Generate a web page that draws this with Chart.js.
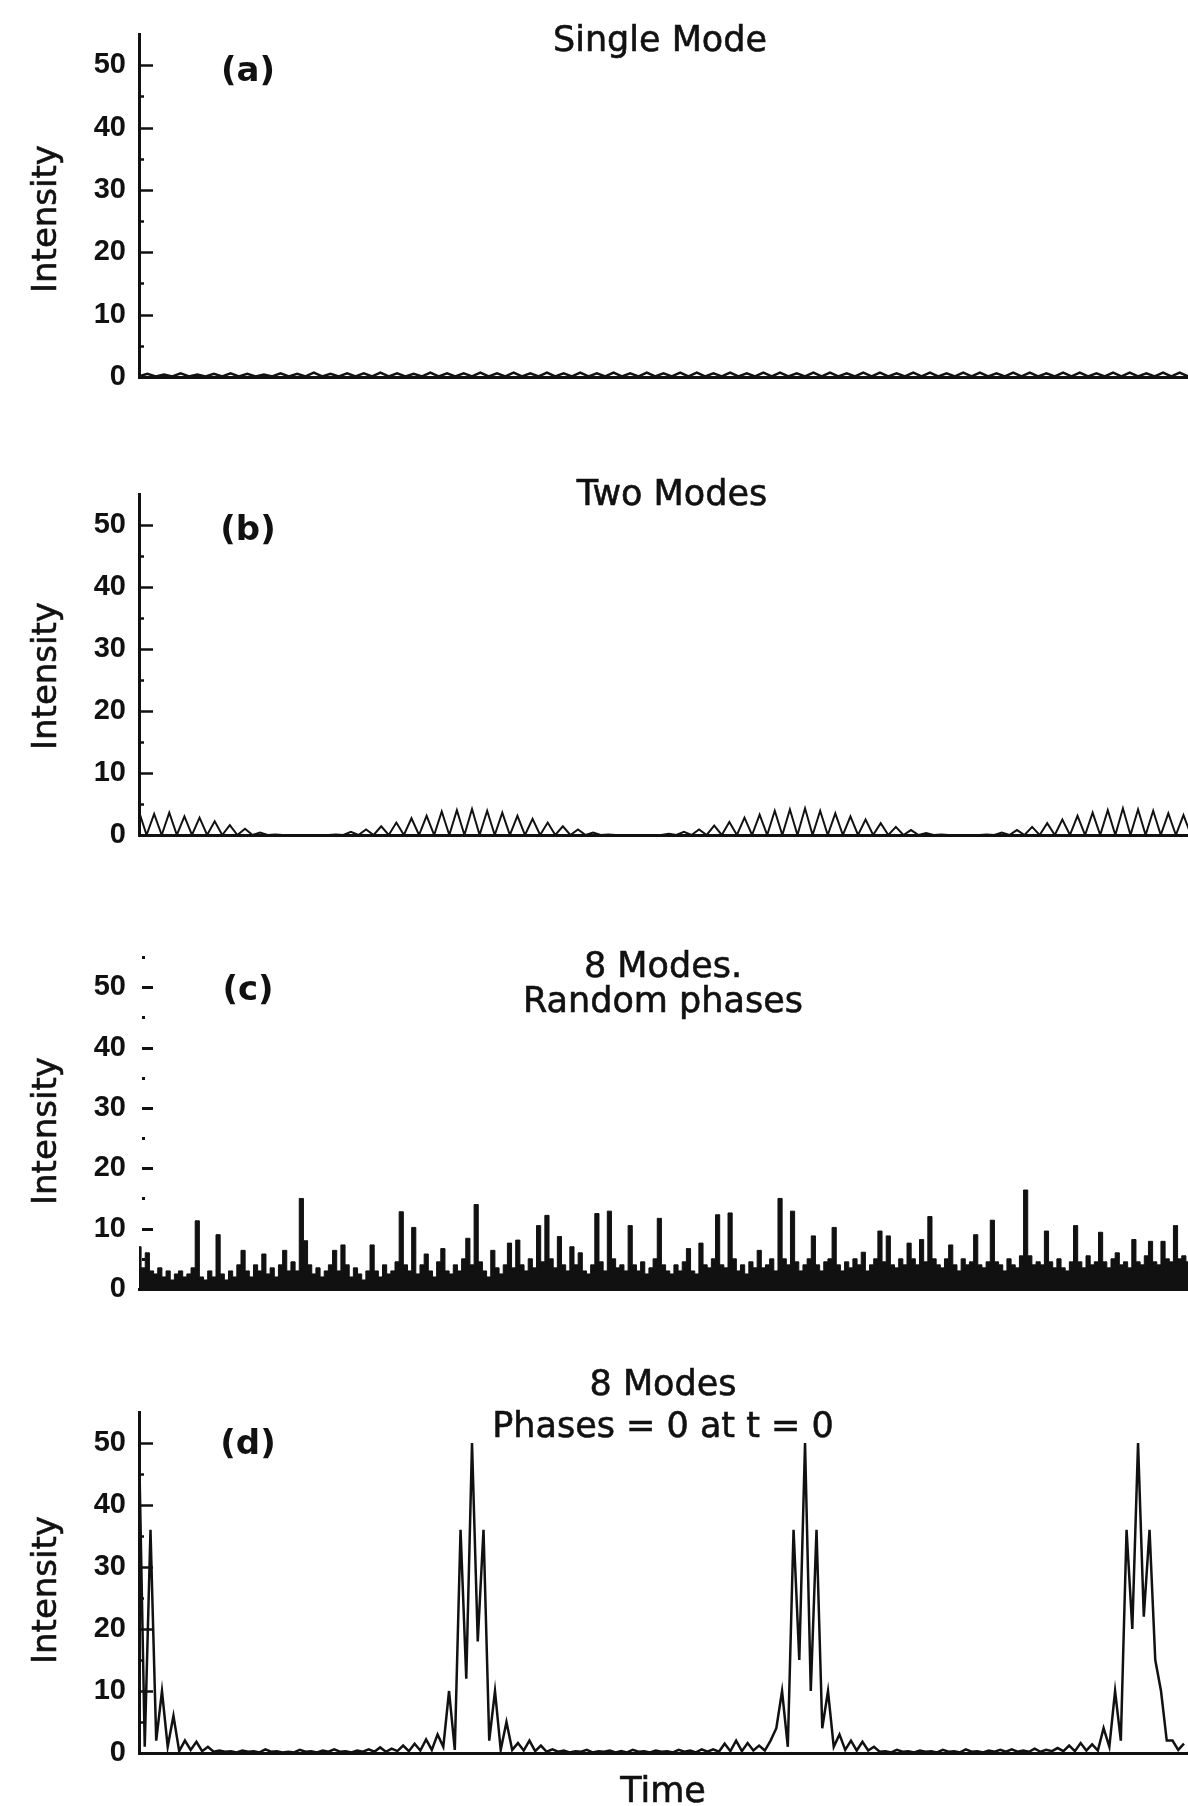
<!DOCTYPE html>
<html><head><meta charset="utf-8">
<script src="https://cdn.jsdelivr.net/npm/chart.js@4/dist/chart.umd.min.js"></script>
<style>
html,body{margin:0;padding:0;background:#fff;}
body{width:1188px;height:1806px;position:relative;overflow:hidden;font-family:'DejaVu Sans',sans-serif;color:#111;}
.panel{position:absolute;left:0;width:1188px;}
.t{position:absolute;transform:translate(-50%,-50%);white-space:nowrap;line-height:1;font-size:35px;-webkit-text-stroke:0.6px #111;}
.lab{font-weight:bold;font-size:34px;-webkit-text-stroke:0;}
.yl{transform:translate(-50%,-50%) rotate(-90deg);font-size:34px;}
</style></head><body>

<div class="panel" id="pa"><canvas id="ca"></canvas></div>
<div class="panel" id="pb"><canvas id="cb"></canvas></div>
<div class="panel" id="pc"><canvas id="cc"></canvas></div>
<div class="panel" id="pd"><canvas id="cd"></canvas></div>

<div class="t" style="left:660px;top:39px">Single Mode</div>
<div class="t lab" style="left:248px;top:69px">(a)</div>
<div class="t yl" style="left:44px;top:219px">Intensity</div>

<div class="t" style="left:672px;top:493px">Two Modes</div>
<div class="t lab" style="left:248px;top:528px">(b)</div>
<div class="t yl" style="left:44px;top:676px">Intensity</div>

<div class="t" style="left:663px;top:965px">8 Modes.</div>
<div class="t" style="left:663px;top:1000px">Random phases</div>
<div class="t lab" style="left:248px;top:988px">(c)</div>
<div class="t yl" style="left:44px;top:1131px">Intensity</div>

<div class="t" style="left:663px;top:1383px">8 Modes</div>
<div class="t" style="left:663px;top:1425px">Phases = 0 at t = 0</div>
<div class="t lab" style="left:248px;top:1442px">(d)</div>
<div class="t yl" style="left:44px;top:1590px">Intensity</div>
<div class="t" style="left:663px;top:1790px">Time</div>

<script>
// ---- axis / tick data ----
const yTickStep = 5;
const yMin = 0;
const yMax = 55;
const xMax = 3.15;           // time, in units of the mode-beat period

// ---- (a) Single mode: sampled every 0.025 period ----
const dtA = 0.025;
const singleMode = [
0.1,0.5,0.1,0.4,0.1,0.6,0.1,0.4,0.1,0.5,
0.1,0.6,0.1,0.5,0.1,0.4,0.1,0.6,0.1,0.5,
0.1,0.7,0.1,0.5,0.1,0.6,0.1,0.6,0.1,0.7,
0.1,0.6,0.1,0.5,0.1,0.7,0.1,0.6,0.1,0.6,
0.1,0.7,0.1,0.6,0.1,0.7,0.1,0.6,0.1,0.7,
0.1,0.6,0.1,0.7,0.1,0.6,0.1,0.7,0.1,0.6,
0.1,0.7,0.1,0.6,0.1,0.7,0.1,0.7,0.1,0.6,
0.1,0.7,0.1,0.6,0.1,0.7,0.1,0.7,0.1,0.6,
0.1,0.7,0.1,0.7,0.1,0.6,0.1,0.7,0.1,0.7,
0.1,0.6,0.1,0.7,0.1,0.7,0.1,0.6,0.1,0.7,
0.1,0.7,0.1,0.6,0.1,0.7,0.1,0.7,0.1,0.6,
0.1,0.7,0.1,0.7,0.1,0.6,0.1,0.7,0.1,0.7,
0.1,0.6,0.1,0.7,0.1,0.7,0.1];

// ---- (b) Two modes: sampled every 1/44 period ----
const dtB = 1/44;
const twoModes = [
3.8,0, 3.4,0, 3.6,0, 3.0,0, 2.8,0, 2.2,0, 1.6,0, 1.0,0, 0.4,0, 0.1,0,
0,0, 0,0, 0,0, 0.1,0, 0.5,0, 0.9,0, 1.4,0, 2.0,0, 2.7,0, 3.1,0,
3.8,0, 4.0,0, 4.2,0, 3.9,0, 3.6,0, 3.1,0, 2.6,0, 2.0,0, 1.4,0, 0.9,0,
0.4,0, 0.1,0, 0,0, 0,0, 0,0, 0.2,0, 0.5,0, 0.9,0, 1.5,0, 2.1,0,
2.8,0, 3.3,0, 3.9,0, 4.1,0, 4.3,0, 3.9,0, 3.5,0, 3.0,0, 2.5,0, 1.9,0,
1.3,0, 0.8,0, 0.3,0, 0.1,0, 0,0, 0,0, 0.1,0, 0.4,0, 0.8,0, 1.3,0,
1.9,0, 2.5,0, 3.1,0, 3.6,0, 4.0,0, 4.3,0, 4.1,0, 3.9,0, 3.5,0, 3.2,0,
2.7];

// ---- (c) 8 modes, random phases: sampled every 0.0125 period ----
const dtC = 0.0125;
const randomPhases = [
7,3.5,6,3,2.5,3.5,2,3,1.5,2.5,
3,2,2.5,3.5,11.3,2,1.5,3,2,9,
2.5,1.5,3,2,4,6.4,3,2,4,3,
5.8,2.5,3.5,2,4,6.4,3,4.5,3,15,
8,4,2.5,3.5,2,3,4,6.4,3,7.3,
4,2,3.5,2.5,1.5,3,7.3,3,2,4,
2.5,3,4.5,12.8,4,3,10.2,2.5,4,5.8,
3,2,4.5,6.7,3,2.5,4,3,5,8.4,
4,14,4.5,3,2,6.4,3.5,2.5,4,7.6,
3.5,8.1,4,3,5,3.5,10.5,4.5,12.2,5,
3.5,8.7,4,3,7,4,6,3,2.5,4,
12.5,4.5,3,12.9,5,3.5,4,3,10.5,4,
3,4.5,2.5,3.5,5,11.7,4,3,2.5,4,
3,4.5,6.7,3,2.5,7.6,4,3.5,5,12.3,
4,3.5,12.6,5,3,4,2.5,4.5,3.5,6.4,
3.5,4,5,3,15,5,4,12.9,4.5,3,
4,5,8.8,4,3,4.5,5,10.2,4,3,
4.5,3.5,5,4,6.1,3,4,5,9.6,4.5,
8.8,4,3.5,5,4,7.6,5,4,8.2,4.5,
12,5,4,3.5,5,7.3,4,3,5,4,
4.5,9,4,3.5,4.5,11.4,4.5,4,3,5,
4,3.5,5.5,16.4,5.5,4,4.5,4,9.6,4.5,
3.5,5,3.5,3,4.5,10.5,4.5,3.5,5.5,4,
4.5,9.4,4.5,3.5,5,6,4,4.5,3.5,8.2,
4.5,4,5.5,7.9,4.5,4,7.9,5,4.5,10.5,
5,5.5,4.5];

// ---- (d) 8 modes, phases = 0 at t = 0: sampled every 1/58 period ----
const dtD = 1/58;
const lockedPhases = [
50,1,36,2,10,1,6,0.3,2,0.5,
1.8,0.3,1,0.2,0.4,0.2,0.3,0.1,0.4,0.2,
0.3,0.1,0.6,0.2,0.3,0.1,0.2,0.1,0.5,0.2,
0.3,0.1,0.4,0.2,0.6,0.2,0.3,0.1,0.4,0.2,
0.6,0.2,0.9,0.2,0.7,0.3,1.2,0.3,1.5,0.4,
2.2,0.5,3,1,10,0.5,36,12,50,18,
36,2,10,0.5,5,0.5,1.6,0.4,2,0.3,
1.2,0.2,0.6,0.2,0.4,0.1,0.3,0.2,0.5,0.1,
0.3,0.2,0.4,0.1,0.3,0.1,0.5,0.2,0.3,0.1,
0.4,0.2,0.3,0.1,0.5,0.2,0.4,0.1,0.6,0.2,
0.6,0.2,1.5,0.3,2,0.3,1.6,0.4,1.2,0.4,
2,4,10,1,36,15,50,10,36,4,
10,1,3,0.5,2,0.4,1.8,0.4,1,0.2,
0.3,0.1,0.5,0.2,0.3,0.1,0.4,0.2,0.3,0.1,
0.5,0.2,0.3,0.1,0.6,0.2,0.3,0.1,0.4,0.2,
0.5,0.2,0.6,0.2,0.4,0.2,0.7,0.2,0.5,0.3,
0.8,0.3,1.2,0.3,1.6,0.4,1.4,0.4,4,1,
10,2,36,20,50,22,36,15,10,2,
2,0.5,1.5];

// ---- layout (positions/styles) ----
const PAD = 38;
const tickFont = {family: "'Liberation Sans', Arial, sans-serif", size: 29, weight: 'bold'};
const panels = [
  {div:'pa', canvas:'ca', data:singleMode,   dt:dtA, top:34,   bottom:377,  lw:2.5, fill:false, stepped:false, style:'line'},
  {div:'pb', canvas:'cb', data:twoModes,     dt:dtB, top:494,  bottom:835,  lw:2,   fill:false, stepped:false, style:'line'},
  {div:'pc', canvas:'cc', data:randomPhases, dt:dtC, top:957,  bottom:1289, lw:1,   fill:true,  stepped:'middle', style:'dash'},
  {div:'pd', canvas:'cd', data:lockedPhases, dt:dtD, top:1412, bottom:1753, lw:2.5, fill:false, stepped:false, style:'line'}
];

const innerTicks = {
  id: 'innerTicks',
  afterDraw(chart, args, opts) {
    const ys = chart.scales.y, ctx = chart.ctx, x0 = chart.chartArea.left;
    ctx.save();
    ctx.strokeStyle = '#111';
    ys.ticks.forEach(t => {
      const v = t.value;
      if (v === 0) return;
      if (v === yMax && opts.style !== 'dash') return;
      const py = Math.round(ys.getPixelForValue(v)) + 0.5;
      const major = v % 10 === 0;
      ctx.beginPath();
      if (opts.style === 'dash') {
        ctx.lineWidth = 3;
        if (major) { ctx.moveTo(x0 + 3, py); ctx.lineTo(x0 + 14, py); }
        else { ctx.moveTo(x0 + 3, py); ctx.lineTo(x0 + 6, py); }
      } else {
        ctx.lineWidth = 2.5;
        ctx.moveTo(x0, py); ctx.lineTo(x0 + (major ? 14 : 5), py);
      }
      ctx.stroke();
    });
    ctx.restore();
  }
};

panels.forEach(p => {
  const d = document.getElementById(p.div);
  d.style.top = (p.top - PAD) + 'px';
  d.style.height = (p.bottom - p.top + 2 * PAD) + 'px';
  new Chart(document.getElementById(p.canvas), {
    type: 'line',
    data: { datasets: [{
      data: p.data.map((v, i) => ({x: i * p.dt, y: v})),
      borderColor: '#111', backgroundColor: '#111',
      borderWidth: p.lw, pointRadius: 0, tension: 0, stepped: p.stepped,
      fill: p.fill ? 'origin' : false
    }]},
    options: {
      responsive: true, maintainAspectRatio: false, animation: false,
      layout: { padding: { top: PAD, bottom: PAD, left: 0, right: 0 } },
      plugins: { legend: {display: false}, tooltip: {enabled: false}, innerTicks: {style: p.style} },
      scales: {
        x: { type: 'linear', min: 0, max: xMax,
             ticks: {display: false}, grid: {display: false, drawTicks: false, tickLength: 0},
             border: {display: true, color: '#111', width: 3} },
        y: { min: yMin, max: yMax,
             afterFit: s => { s.width = 139; },
             ticks: { stepSize: yTickStep, autoSkip: false, padding: 13, color: '#111',
                      font: tickFont,
                      callback: v => (v % 10 === 0 ? String(v) : '') },
             grid: {display: false, drawTicks: false, tickLength: 0},
             border: {display: p.style !== 'dash', color: '#111', width: 3} }
      }
    },
    plugins: [innerTicks]
  });
});
</script>
</body></html>
